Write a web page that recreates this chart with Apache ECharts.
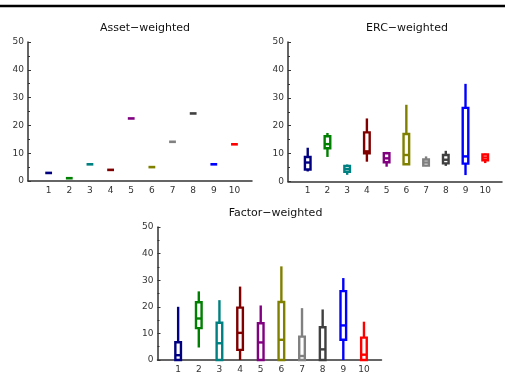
<!DOCTYPE html>
<html>
<head>
<meta charset="utf-8">
<script src="https://cdn.jsdelivr.net/npm/echarts@6/dist/echarts.min.js"></script>
<style>html,body{margin:0;padding:0;background:#fff}#c{width:505px;height:374px}</style>
</head>
<body>
<div id="c"></div>
<script>
// ---- data ----
const categories = [1, 2, 3, 4, 5, 6, 7, 8, 9, 10];
const yTicks = [0, 10, 20, 30, 40, 50];
const titles = ['Asset\u2212weighted', 'ERC\u2212weighted', 'Factor\u2212weighted'];
const colors = ['#000080', '#008000', '#008080', '#800000', '#800080', '#808000', '#808080', '#404040', '#0000ff', '#ff0000'];
// Asset-weighted: single value per portfolio
const assetValues = [2.9, 1.0, 6.0, 4.0, 22.5, 5.0, 14.1, 24.3, 6.0, 13.2];
// [low, q1, median, q3, high]
const ercStats = [
  [3.6, 4.3, 6.8, 8.8, 12.1],
  [8.8, 11.9, 13.4, 16.2, 17.4],
  [2.4, 3.5, 4.5, 5.6, 6.1],
  [7.1, 10.1, 10.8, 17.6, 22.6],
  [5.3, 6.9, 8.3, 10.1, 10.6],
  [6.0, 6.2, 9.5, 17.0, 27.5],
  [5.5, 5.7, 6.8, 7.9, 9.0],
  [5.6, 6.5, 7.8, 9.5, 11.0],
  [2.3, 6.4, 9.0, 26.4, 35.0],
  [6.6, 7.6, 8.6, 9.7, 10.0]
];
const factorStats = [
  [0, 0, 1.8, 6.7, 20.0],
  [4.7, 12.0, 15.6, 21.7, 25.8],
  [0, 0, 6.3, 14.0, 22.5],
  [0, 3.8, 10.2, 19.7, 27.6],
  [0, 0, 6.6, 13.8, 20.5],
  [0, 0, 7.6, 21.8, 35.2],
  [0, 0, 1.5, 8.8, 19.5],
  [0, 0, 4.0, 12.3, 19.0],
  [0, 7.6, 13.0, 25.9, 30.8],
  [0, 0, 2.0, 8.4, 14.4]
];

// ---- chart ----
const chart = echarts.init(document.getElementById('c'), null, {renderer: 'canvas'});
const axisColor = '#333';
const fontFamily = 'DejaVu Sans';

function toBoxData(stats) {
  return stats.map((s, i) => [categories[i], s[0], s[1], s[2], s[3], s[4]]);
}
const assetData = assetValues.map((v, i) => [categories[i], v, v, v, v, v]);

function renderBox(params, api) {
  const x = api.value(0);
  const c = colors[params.dataIndex];
  const pt = v => api.coord([x, v]);
  const low = pt(api.value(1)), q1 = pt(api.value(2)), med = pt(api.value(3)),
        q3 = pt(api.value(4)), high = pt(api.value(5));
  const cx = low[0];
  const hw = 2.8;
  const lw = 2.4;
  const children = [];
  if (Math.abs(q1[1] - q3[1]) < 0.5) {
    children.push({type: 'rect', shape: {x: cx - 3.4, y: med[1] - 1.3, width: 6.8, height: 2.6}, style: {fill: c}});
    return {type: 'group', children};
  }
  if (high[1] < q3[1] - 0.5) children.push({type: 'line', shape: {x1: cx, y1: high[1], x2: cx, y2: q3[1]}, style: {stroke: c, lineWidth: lw}});
  if (low[1] > q1[1] + 0.5) children.push({type: 'line', shape: {x1: cx, y1: q1[1], x2: cx, y2: low[1]}, style: {stroke: c, lineWidth: lw}});
  children.push({type: 'rect', shape: {x: cx - hw, y: q3[1], width: hw * 2, height: q1[1] - q3[1]}, style: {stroke: c, fill: 'none', lineWidth: lw}});
  children.push({type: 'line', shape: {x1: cx - hw, y1: med[1], x2: cx + hw, y2: med[1]}, style: {stroke: c, lineWidth: lw}});
  return {type: 'group', children};
}

const gridDefs = [
  {left: 28, top: 42, width: 224, height: 139},
  {left: 288, top: 42, width: 224, height: 139.5},
  {left: 157.5, top: 227, width: 224, height: 139.7}
];

function xAxisDef(i) {
  return {
    type: 'value', gridIndex: i, min: 0, max: 10.85, interval: 1,
    axisLine: {lineStyle: {color: axisColor, width: 1.5}},
    axisTick: {show: false},
    splitLine: {show: false},
    axisLabel: {
      color: axisColor, fontSize: 9, fontFamily, margin: 5,
      formatter: v => (categories.indexOf(v) >= 0 ? String(v) : '')
    }
  };
}
function yAxisDef(i) {
  return {
    type: 'value', gridIndex: i, min: yTicks[0], max: yTicks[yTicks.length - 1], interval: 10,
    axisLine: {show: true, lineStyle: {color: axisColor, width: 1.5}},
    axisTick: {show: true, inside: true, length: 3, lineStyle: {color: axisColor}},
    minorTick: {show: true, splitNumber: 2, length: 2, lineStyle: {color: axisColor}},
    splitLine: {show: false},
    axisLabel: {color: axisColor, fontSize: 9, fontFamily, margin: 4}
  };
}

const option = {
  animation: false,
  backgroundColor: '#fff',
  title: [
    {text: titles[0], left: 140, top: 18, textAlign: 'center', textStyle: {fontSize: 11, fontWeight: 'normal', color: '#111', fontFamily}},
    {text: titles[1], left: 402, top: 18, textAlign: 'center', textStyle: {fontSize: 11, fontWeight: 'normal', color: '#111', fontFamily}},
    {text: titles[2], left: 270.5, top: 203, textAlign: 'center', textStyle: {fontSize: 11, fontWeight: 'normal', color: '#111', fontFamily}}
  ],
  graphic: [
    {type: 'line', shape: {x1: 0, y1: 6, x2: 505, y2: 6}, style: {stroke: '#000', lineWidth: 2.4}}
  ],
  grid: gridDefs,
  xAxis: [xAxisDef(0), xAxisDef(1), xAxisDef(2)],
  yAxis: [yAxisDef(0), yAxisDef(1), yAxisDef(2)],
  series: [
    {type: 'custom', xAxisIndex: 0, yAxisIndex: 0, renderItem: renderBox, data: assetData, clip: false},
    {type: 'custom', xAxisIndex: 1, yAxisIndex: 1, renderItem: renderBox, data: toBoxData(ercStats), clip: false},
    {type: 'custom', xAxisIndex: 2, yAxisIndex: 2, renderItem: renderBox, data: toBoxData(factorStats), clip: false}
  ]
};
chart.setOption(option);
</script>
</body>
</html>
